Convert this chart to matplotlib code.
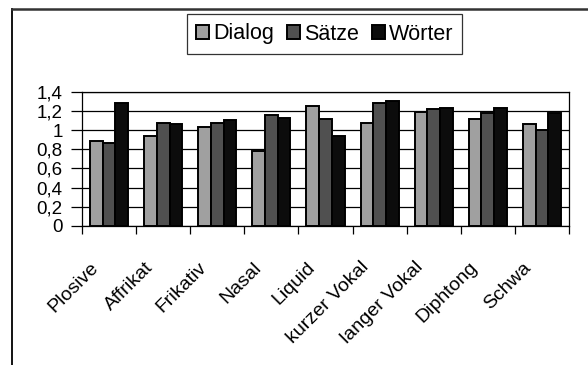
import numpy as np
import matplotlib
matplotlib.use("Agg")
import matplotlib.pyplot as plt
from matplotlib.lines import Line2D
from matplotlib.transforms import ScaledTranslation

plt.rcParams['font.family'] = ['Liberation Sans', 'DejaVu Sans']

categories = ["Plosive", "Affrikat", "Frikativ", "Nasal", "Liquid",
              "kurzer Vokal", "langer Vokal", "Diphtong", "Schwa"]
dialog = [0.89, 0.94, 1.03, 0.78, 1.25, 1.07, 1.19, 1.12, 1.06]
saetze = [0.87, 1.07, 1.07, 1.16, 1.12, 1.28, 1.22, 1.18, 1.00]
woerter = [1.28, 1.06, 1.11, 1.13, 0.94, 1.30, 1.23, 1.23, 1.18]
series_names = ["Dialog", "Sätze", "Wörter"]
colors = ["#a0a0a0", "#505050", "#0c0c0c"]

y_ticks = [0, 0.2, 0.4, 0.6, 0.8, 1.0, 1.2, 1.4]
y_ticklabels = ["0", "0,2", "0,4", "0,6", "0,8", "1", "1,2", "1,4"]

W, H = 588, 365
fig = plt.figure(figsize=(W / 100, H / 100), dpi=100)
fig.patch.set_facecolor("white")

ax = fig.add_axes([82 / W, 1 - 226 / H, (569 - 82) / W, (226 - 91.7) / H])

x = np.arange(len(categories))
bw = 0.235
for i, (vals, name, col) in enumerate(zip([dialog, saetze, woerter], series_names, colors)):
    ax.bar(x + (i - 1) * bw, vals, width=bw, color=col, edgecolor="black",
           linewidth=1.4, label=name, zorder=3)

ax.set_xlim(-0.5, len(categories) - 0.5)
ax.set_ylim(0, 1.4)
ax.set_yticks(y_ticks)
ax.set_yticklabels(y_ticklabels, fontsize=13.5)
ax.yaxis.grid(True, color="black", linewidth=0.9, zorder=0)
ax.set_axisbelow(True)
ax.tick_params(axis="y", direction="out", length=8, width=0.9, pad=6)

# category ticks sit between groups, labels at group centres
ax.set_xticks(np.arange(len(categories) + 1) - 0.5)
ax.set_xticklabels([])
ax.tick_params(axis="x", direction="out", length=6, width=0.9)
ax.set_xticks(x, minor=True)
ax.set_xticklabels(categories, minor=True, rotation=45, ha="right", va="center",
                   rotation_mode="anchor", fontsize=14)
ax.tick_params(axis="x", which="minor", length=0, pad=28)
offset = ScaledTranslation(-13 / 100, 0, fig.dpi_scale_trans)
for lbl in ax.get_xticklabels(minor=True):
    lbl.set_transform(lbl.get_transform() + offset)

for s in ax.spines.values():
    s.set_color("black")
    s.set_linewidth(0.9)

leg = ax.legend(loc="center", bbox_to_anchor=(324.5 / W, 1 - 34 / H),
                bbox_transform=fig.transFigure, ncol=3, frameon=True,
                fancybox=False, shadow=False, fontsize=15.5,
                handlelength=0.6, handleheight=0.6, handletextpad=0.2,
                columnspacing=0.6, borderpad=0.42, borderaxespad=0)
leg.get_frame().set_edgecolor("black")
leg.get_frame().set_linewidth(0.9)

# outer chart border (left and top edges)
fig.add_artist(Line2D([12 / W, 12 / W], [0, 1 - 9 / H], transform=fig.transFigure,
                      color="black", linewidth=1.3))
fig.add_artist(Line2D([12 / W, 1], [1 - 9 / H, 1 - 9 / H], transform=fig.transFigure,
                      color="#333333", linewidth=1.8))

fig.savefig("out.png", dpi=100)
